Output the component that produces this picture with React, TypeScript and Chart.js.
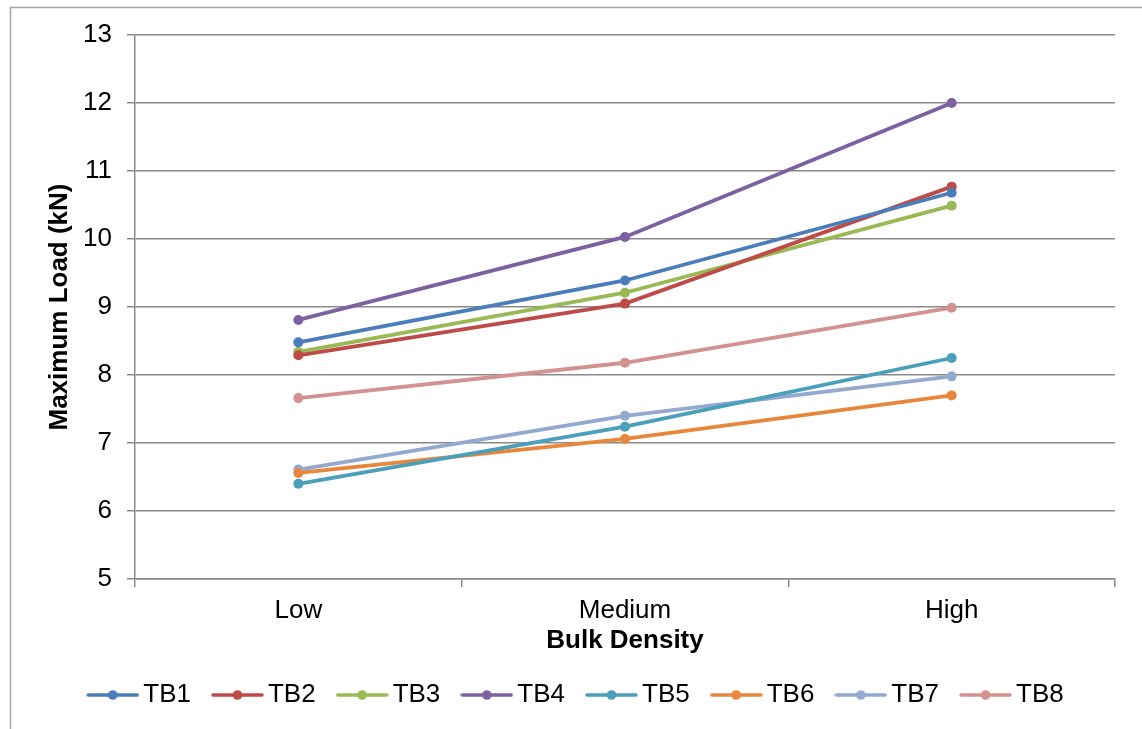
import React, { useEffect, useRef } from "react";
import { Chart, registerables } from "chart.js";

Chart.register(...registerables);

const categories = ["Low", "Medium", "High"];
const seriesNames = ["TB1", "TB2", "TB3", "TB4", "TB5", "TB6", "TB7", "TB8"];
const TB1 = [8.48, 9.39, 10.68];
const TB2 = [8.29, 9.05, 10.77];
const TB3 = [8.34, 9.21, 10.49];
const TB4 = [8.81, 10.03, 12.0];
const TB5 = [6.4, 7.24, 8.25];
const TB6 = [6.56, 7.06, 7.7];
const TB7 = [6.61, 7.4, 7.98];
const TB8 = [7.66, 8.18, 8.99];
const seriesValues = [TB1, TB2, TB3, TB4, TB5, TB6, TB7, TB8];
const seriesColors = ["#4A7EBB", "#BE4B48", "#98B954", "#7D60A0", "#4A9FBB", "#E8873C", "#93A9CF", "#D39190"];
const yTitle = "Maximum Load (kN)";
const xTitle = "Bulk Density";

const FONT = "'Liberation Sans', Arial, sans-serif";
const GRID = "#8a8a8a";

function legendMarker(color: string): HTMLCanvasElement {
  const c = document.createElement("canvas");
  c.width = 53;
  c.height = 12;
  const ctx = c.getContext("2d")!;
  ctx.strokeStyle = color;
  ctx.lineWidth = 3.5;
  ctx.lineCap = "round";
  ctx.beginPath();
  ctx.moveTo(2, 6);
  ctx.lineTo(51, 6);
  ctx.stroke();
  ctx.fillStyle = color;
  ctx.beginPath();
  ctx.arc(26.5, 6, 4.8, 0, Math.PI * 2);
  ctx.fill();
  return c;
}

const frame = {
  id: "frame",
  beforeDraw(chart: any) {
    const ctx = chart.ctx;
    ctx.save();
    ctx.fillStyle = "#ffffff";
    ctx.fillRect(0, 0, chart.width, chart.height);
    ctx.strokeStyle = "#a6a6a6";
    ctx.lineWidth = 1.5;
    ctx.beginPath();
    ctx.moveTo(10.5, chart.height + 5);
    ctx.lineTo(10.5, 7.5);
    ctx.lineTo(chart.width + 5, 7.5);
    ctx.stroke();
    ctx.restore();
  },
};

export default function App() {
  const ref = useRef<HTMLCanvasElement>(null);
  useEffect(() => {
    const markers = seriesColors.map(legendMarker);
    const chart = new Chart(ref.current!, {
      type: "line",
      data: {
        labels: categories,
        datasets: seriesNames.map((name, i) => ({
          label: name,
          data: seriesValues[i],
          borderColor: seriesColors[i],
          backgroundColor: seriesColors[i],
          pointBackgroundColor: seriesColors[i],
          pointBorderWidth: 0,
          pointRadius: 5,
          borderWidth: 3.8,
          tension: 0,
        })),
      },
      options: {
        responsive: false,
        animation: false,
        layout: { padding: { left: 44, right: 27, top: 35, bottom: 11 } },
        plugins: {
          tooltip: { enabled: false },
          legend: {
            position: "bottom",
            labels: {
              usePointStyle: true,
              pointStyleWidth: 35,
              padding: 29,
              color: "#000",
              font: { family: FONT, size: 26 },
              generateLabels: (ch: any) => {
                const base = Chart.defaults.plugins.legend.labels.generateLabels(ch);
                return base.map((l: any, i: number) => ({ ...l, pointStyle: markers[i], fontColor: "#000" }));
              },
            },
          },
        },
        scales: {
          x: {
            offset: true,
            afterFit: (s: any) => {
              s.height = 74;
            },
            grid: { drawOnChartArea: false, offset: true, tickLength: 8, color: GRID, lineWidth: 1.5 },
            border: { color: GRID, width: 1.5 },
            ticks: { color: "#000", padding: 8, font: { family: FONT, size: 26 } },
            title: {
              display: true,
              text: xTitle,
              color: "#000",
              padding: 0,
              font: { family: FONT, size: 26, weight: "bold", lineHeight: 0.92 },
            },
          },
          y: {
            min: 5,
            max: 13,
            afterFit: (s: any) => {
              s.width = 91;
            },
            grid: { tickLength: 8, color: GRID, lineWidth: 1.5 },
            border: { color: GRID, width: 1.5 },
            ticks: { stepSize: 1, color: "#000", padding: 15, font: { family: FONT, size: 26 } },
            title: {
              display: true,
              text: yTitle,
              color: "#000",
              padding: 0,
              font: { family: FONT, size: 26, weight: "bold" },
            },
          },
        },
      },
      plugins: [frame],
    } as any);
    return () => chart.destroy();
  }, []);
  return (
    <div style={{ position: "absolute", left: 0, top: 0, width: 1142, height: 729 }}>
      <canvas ref={ref} width={1142} height={729} style={{ display: "block" }} />
    </div>
  );
}
